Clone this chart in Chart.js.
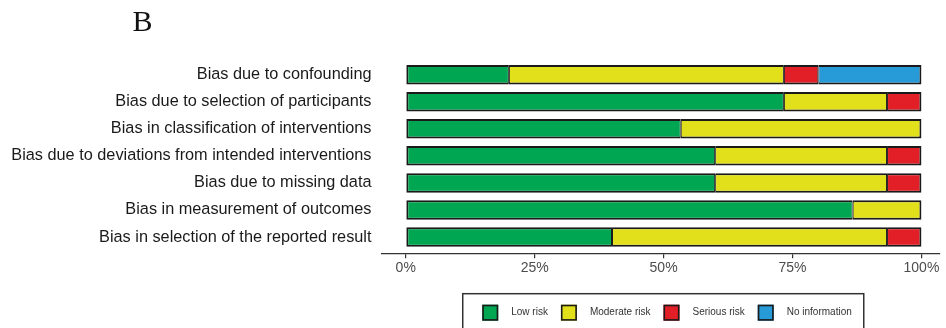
<!DOCTYPE html>
<html>
<head>
<meta charset="utf-8">
<script src="https://cdn.jsdelivr.net/npm/chart.js@4/dist/chart.umd.min.js"></script>
<style>
  html, body { margin: 0; padding: 0; background: #ffffff; }
  canvas { display: block; }
</style>
</head>
<body>
<canvas id="rob" width="946" height="328"></canvas>
<script>
// Risk-of-bias domains (top to bottom)
const categories = [
  "Bias due to confounding",
  "Bias due to selection of participants",
  "Bias in classification of interventions",
  "Bias due to deviations from intended interventions",
  "Bias due to missing data",
  "Bias in measurement of outcomes",
  "Bias in selection of the reported result"
];

// Share of studies (%) per judgement
const lowRisk       = [20, 73.33, 53.33, 60, 60, 86.67, 40];
const moderateRisk  = [53.33, 20, 46.67, 33.33, 33.33, 13.33, 53.33];
const seriousRisk   = [6.67, 6.67, 0, 6.67, 6.67, 0, 6.67];
const noInformation = [20, 0, 0, 0, 0, 0, 0];

const judgements = ["Low risk", "Moderate risk", "Serious risk", "No information"];
const xTicks = [0, 25, 50, 75, 100];

const palette = ["#00a651", "#e2df1b", "#e21f26", "#279bd7"];
const seriesValues = [lowRisk, moderateRisk, seriousRisk, noInformation];

const SANS = "'Liberation Sans', Arial, Helvetica, sans-serif";

// Outer edge of each stacked bar gets a heavier outline than inner dividers
function segmentBorder(ctx) {
  const i = ctx.dataIndex, d = ctx.datasetIndex;
  let start = 0;
  for (let k = 0; k < d; k++) start += seriesValues[k][i];
  const end = start + seriesValues[d][i];
  return { top: 2, bottom: 2, left: start < 0.01 ? 2 : 1, right: end > 99.9 ? 2 : 1 };
}

const datasets = seriesValues.map((vals, d) => ({
  label: judgements[d],
  data: vals.map((v, i) => ({ x: v, y: i + 1 })),
  backgroundColor: palette[d],
  borderColor: "#1a1a1a",
  borderWidth: segmentBorder,
  borderSkipped: false,
  barPercentage: 0.72,
  categoryPercentage: 1
}));

// Panel letter
const panelLetter = {
  id: "panelLetter",
  afterDraw(chart) {
    const c = chart.ctx;
    c.save();
    c.fillStyle = "#111111";
    c.font = "30px 'Liberation Serif', 'Times New Roman', serif";
    c.textBaseline = "alphabetic";
    c.textAlign = "left";
    c.fillText("B", 132.5, 30.5);
    c.restore();
  }
};

// Boxed legend drawn under the plot from the dataset labels and colours
const boxedLegend = {
  id: "boxedLegend",
  afterDraw(chart) {
    const c = chart.ctx;
    const area = chart.chartArea;
    const sq = 16, gapText = 13, gapItem = 13, padL = 19.5, padR = 12;
    c.save();
    c.font = "10px " + SANS;
    const items = chart.data.datasets.map(ds => ({
      label: ds.label, color: ds.backgroundColor, w: c.measureText(ds.label).width
    }));
    let content = 0;
    items.forEach((it, k) => { content += sq + gapText + it.w + (k < items.length - 1 ? gapItem : 0); });
    const boxW = content + padL + padR;
    const boxLeft = (area.left + area.right) / 2 + 2.5 - boxW / 2;
    const boxTop = 293.7;
    c.strokeStyle = "#333333";
    c.lineWidth = 1.5;
    c.strokeRect(boxLeft, boxTop, boxW, 45);
    let x = boxLeft + padL;
    const cy = 312.7;
    items.forEach(it => {
      c.fillStyle = it.color;
      c.fillRect(x, cy - sq / 2, sq, sq);
      c.strokeStyle = "#1a1a1a";
      c.lineWidth = 1.6;
      c.strokeRect(x + 0.8, cy - sq / 2 + 0.8, sq - 1.6, sq - 1.6);
      x += sq + gapText;
      c.fillStyle = "#333333";
      c.textBaseline = "middle";
      c.textAlign = "left";
      c.fillText(it.label, x, cy);
      x += it.w + gapItem;
    });
    c.restore();
  }
};

new Chart(document.getElementById("rob"), {
  type: "bar",
  data: { datasets },
  plugins: [panelLetter, boxedLegend],
  options: {
    indexAxis: "y",
    responsive: false,
    animation: false,
    devicePixelRatio: 1,
    layout: { padding: { top: 58.4, right: 6, bottom: 0, left: 0 } },
    plugins: {
      legend: { display: false },
      tooltip: { enabled: false },
      title: { display: false }
    },
    scales: {
      x: {
        type: "linear",
        stacked: true,
        min: -4.7,
        max: 103.6,
        afterBuildTicks(scale) { scale.ticks = xTicks.map(v => ({ value: v })); },
        afterFit(scale) { scale.height = 328 - 253.3; },
        border: { display: true, color: "#333333", width: 1.2 },
        grid: { drawOnChartArea: false, drawTicks: true, tickLength: 5, color: "#333333", lineWidth: 1.2 },
        ticks: {
          padding: 1,
          color: "#4d4d4d",
          font: { family: SANS, size: 14 },
          maxRotation: 0,
          callback: v => v + "%"
        }
      },
      y: {
        type: "linear",
        stacked: true,
        reverse: true,
        offset: false,
        min: 0.4,
        max: 7.6,
        afterBuildTicks(scale) { scale.ticks = categories.map((_, i) => ({ value: i + 1 })); },
        afterFit(scale) { scale.width = 381.5; },
        border: { display: false },
        grid: { display: false, drawTicks: false, offset: false },
        ticks: {
          padding: 10,
          color: "#1a1a1a",
          font: { family: SANS, size: 16.3 },
          autoSkip: false,
          callback: v => categories[v - 1]
        }
      }
    }
  }
});
</script>
</body>
</html>
